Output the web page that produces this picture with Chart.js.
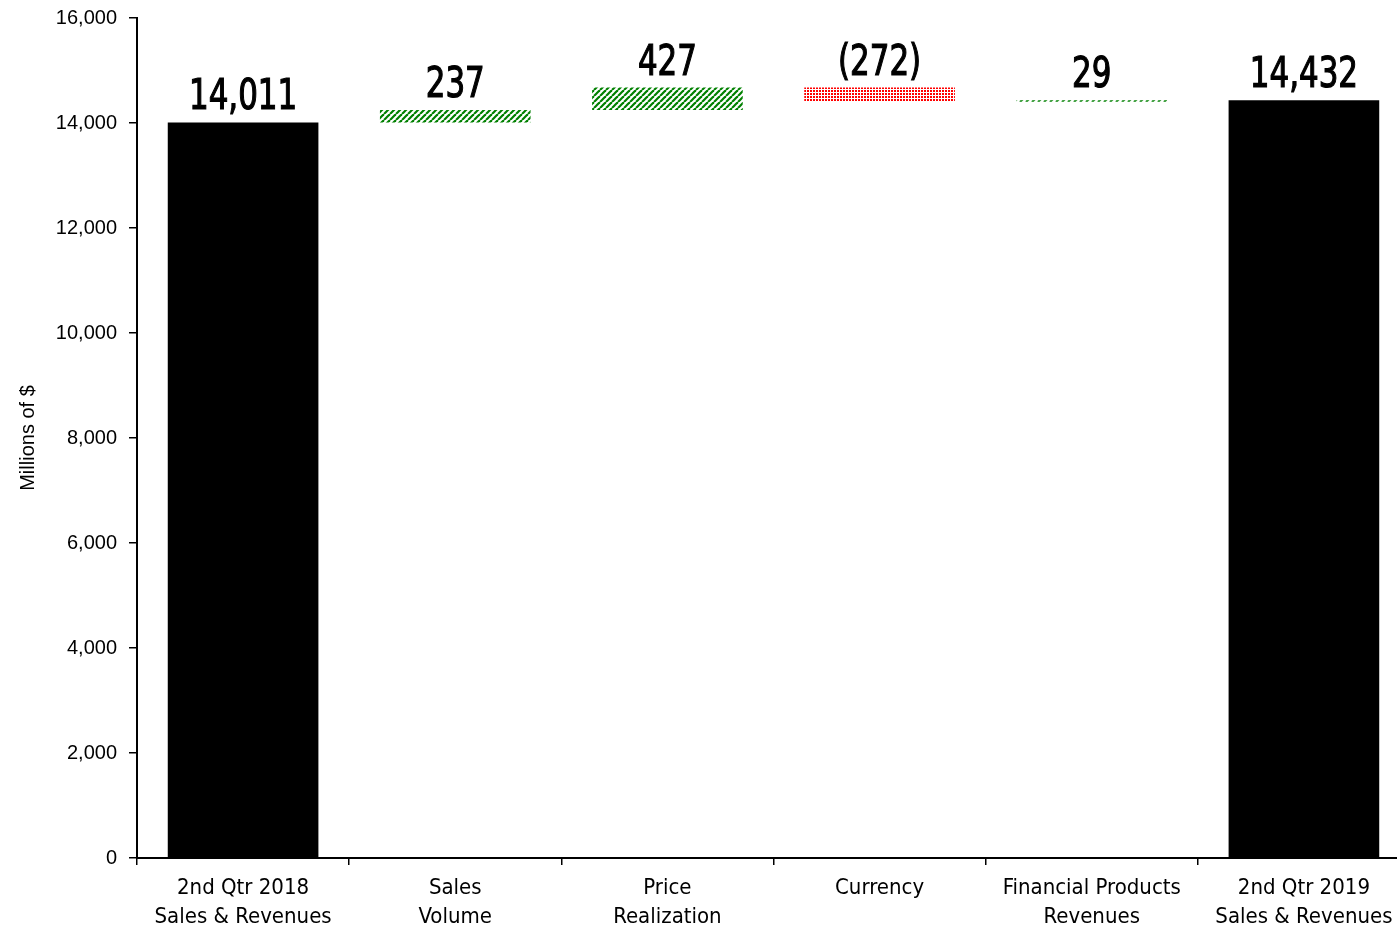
<!DOCTYPE html>
<html>
<head>
<meta charset="utf-8">
<title>Sales & Revenues Waterfall</title>
<script src="https://cdn.jsdelivr.net/npm/chart.js@4.4.1/dist/chart.umd.min.js"></script>
<style>
  html, body { margin: 0; padding: 0; background: #fff; overflow: hidden; }
  #wrap { width: 1410px; height: 931px; }
</style>
</head>
<body>
<div id="wrap"><canvas id="chart" width="1410" height="931"></canvas></div>
<script>
const categories = [
  ['2nd Qtr 2018', 'Sales & Revenues'],
  ['Sales', 'Volume'],
  ['Price', 'Realization'],
  ['Currency'],
  ['Financial Products', 'Revenues'],
  ['2nd Qtr 2019', 'Sales & Revenues'],
];
const changes = [14011, 237, 427, -272, 29, 14432];
const isTotal = [true, false, false, false, false, true];
const yTicks = [0, 2000, 4000, 6000, 8000, 10000, 12000, 14000, 16000];

const NARROW = '"Liberation Sans Narrow", "DejaVu Sans Condensed", Arial, sans-serif';
const WIDE = '"Liberation Sans", Arial, sans-serif';

function makeStripes() {
  const c = document.createElement('canvas');
  c.width = 6; c.height = 6;
  const g = c.getContext('2d');
  g.fillStyle = '#fff';
  g.fillRect(0, 0, 6, 6);
  g.strokeStyle = '#008000';
  g.lineWidth = 2.2;
  [-6, 0, 6].forEach((o) => {
    g.beginPath();
    g.moveTo(o, 6);
    g.lineTo(o + 6, 0);
    g.stroke();
  });
  return g.createPattern(c, 'repeat');
}

function makeDots() {
  const c = document.createElement('canvas');
  c.width = 3; c.height = 3;
  const g = c.getContext('2d');
  g.fillStyle = '#fff';
  g.fillRect(0, 0, 3, 3);
  g.fillStyle = '#ff0000';
  g.fillRect(0, 0, 2, 2);
  return g.createPattern(c, 'repeat');
}

const stripes = makeStripes();
const dots = makeDots();

// floating ranges for the waterfall
let running = 0;
const ranges = changes.map((v, i) => {
  if (isTotal[i]) {
    running = v;
    return [0, v];
  }
  const start = running;
  running += v;
  return [start, running];
});

const colors = changes.map((v, i) => (isTotal[i] ? '#000' : v < 0 ? dots : stripes));

// value labels above each bar, squeezed to look like a narrow face
const valueLabels = {
  id: 'valueLabels',
  afterDatasetsDraw(chart) {
    const ctx = chart.ctx;
    const meta = chart.getDatasetMeta(0);
    meta.data.forEach((bar, i) => {
      const v = changes[i];
      const txt = v < 0 ? '(' + Math.abs(v).toLocaleString('en-US') + ')' : v.toLocaleString('en-US');
      const top = Math.min(bar.y, bar.base);
      ctx.save();
      ctx.font = '43px ' + NARROW;
      ctx.fillStyle = '#000';
      ctx.strokeStyle = '#000';
      ctx.lineWidth = 1.2;
      ctx.textAlign = 'center';
      ctx.textBaseline = 'alphabetic';
      ctx.translate(bar.x, top - 13);
      ctx.scale(0.8, 1);
      ctx.fillText(txt, 0, 0);
      ctx.strokeText(txt, 0, 0);
      ctx.restore();
    });
  },
};

new Chart(document.getElementById('chart'), {
  type: 'bar',
  data: {
    labels: categories,
    datasets: [{
      data: ranges,
      backgroundColor: colors,
      borderWidth: 0,
      barPercentage: 0.71,
      categoryPercentage: 1,
    }],
  },
  options: {
    responsive: false,
    animation: false,
    layout: { padding: { top: 18, left: 0, right: 0, bottom: 0 } },
    plugins: {
      legend: { display: false },
      tooltip: { enabled: false },
    },
    scales: {
      x: {
        grid: {
          display: true,
          drawOnChartArea: false,
          drawTicks: true,
          tickLength: 7,
          color: '#000',
          lineWidth: 1.5,
        },
        border: { color: '#000', width: 2 },
        ticks: {
          color: '#000',
          font: { family: NARROW, size: 22, lineHeight: 1.3 },
          maxRotation: 0,
          autoSkip: false,
          padding: 9,
        },
        afterFit(scale) { scale.height = 73; },
      },
      y: {
        min: 0,
        max: 16000,
        afterBuildTicks(scale) { scale.ticks = yTicks.map((v) => ({ value: v })); },
        grid: {
          display: true,
          drawOnChartArea: false,
          drawTicks: true,
          tickLength: 8,
          color: '#000',
          lineWidth: 1.5,
        },
        border: { color: '#000', width: 2 },
        ticks: {
          color: '#000',
          font: { family: WIDE, size: 20 },
          padding: 12,
          callback: (v) => v.toLocaleString('en-US'),
        },
        title: {
          display: true,
          text: 'Millions of $',
          color: '#000',
          font: { family: WIDE, size: 20 },
          padding: { top: 16, bottom: 6 },
        },
        afterFit(scale) {
          scale.width = 137;
          scale.paddingTop = 0;
          scale.paddingBottom = 0;
        },
      },
    },
  },
  plugins: [valueLabels],
});
</script>
</body>
</html>
